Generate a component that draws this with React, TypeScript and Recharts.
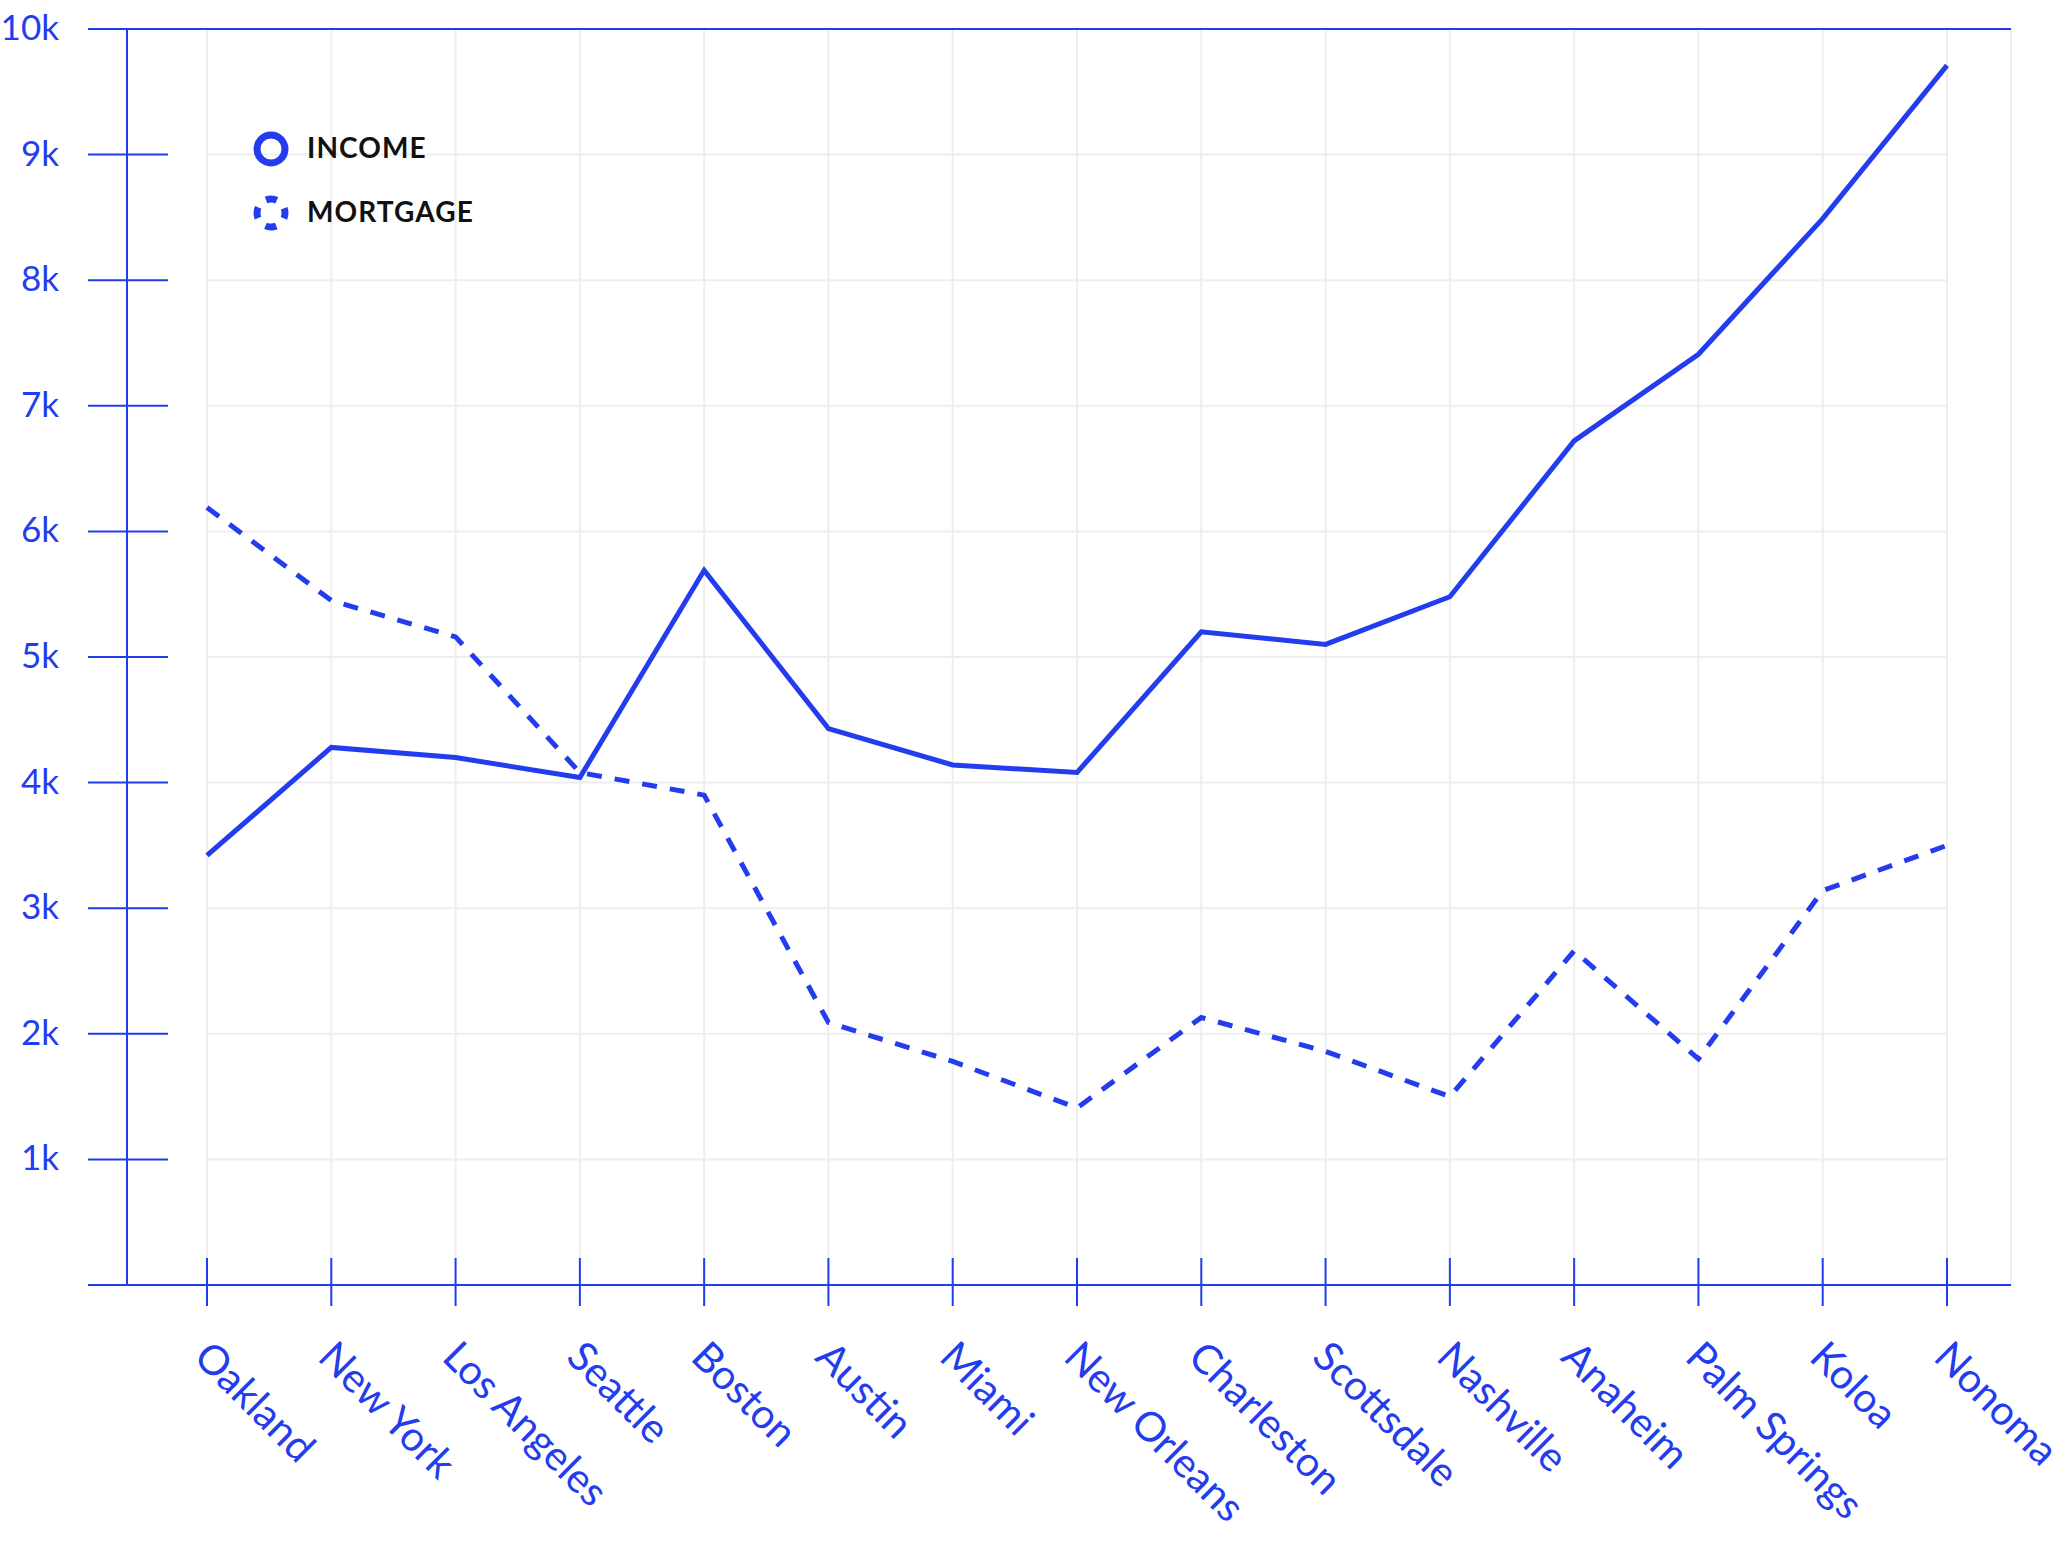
import React from "react";
import { CartesianGrid, Legend, Line, LineChart, ReferenceLine, XAxis, YAxis } from "recharts";

const BLUE = "#233cee";
const GRID = "#eeeeee";

const cities = [
  "Oakland", "New York", "Los Angeles", "Seattle", "Boston", "Austin", "Miami", "New Orleans",
  "Charleston", "Scottsdale", "Nashville", "Anaheim", "Palm Springs", "Koloa", "Nonoma",
];
const income = [3420, 4280, 4200, 4040, 5690, 4430, 4140, 4080, 5200, 5100, 5480, 6720, 7410, 8490, 9710];
const mortgage = [6190, 5450, 5160, 4080, 3900, 2090, 1780, 1410, 2130, 1860, 1500, 2660, 1800, 3140, 3500];
const yTicks = [0, 1000, 2000, 3000, 4000, 5000, 6000, 7000, 8000, 9000, 10000];
const legendItems = [
  { key: "income", label: "INCOME", dashed: false },
  { key: "mortgage", label: "MORTGAGE", dashed: true },
];

const data = cities.map((city, i) => ({ city, income: income[i], mortgage: mortgage[i] }));

function YTick({ x, y, payload }: any) {
  if (payload.value === 0) {
    return <line x1={x - 39} x2={x} y1={y} y2={y} stroke={BLUE} strokeWidth={2} />;
  }
  return (
    <g>
      <line x1={x - 39} x2={x + 41} y1={y} y2={y} stroke={BLUE} strokeWidth={2} />
      <text x={x - 68} y={y + 11} textAnchor="end" fill={BLUE} fontSize={35}>
        {payload.value / 1000}k
      </text>
    </g>
  );
}

function XTick({ x, y, payload }: any) {
  const tx = x - 15;
  const ty = y + 74;
  return (
    <g>
      <line x1={x} x2={x} y1={y - 27} y2={y + 21} stroke={BLUE} strokeWidth={2} />
      <text x={tx} y={ty} transform={`rotate(45, ${tx}, ${ty})`} textAnchor="start" fill={BLUE} fontSize={41}>
        {payload.value}
      </text>
    </g>
  );
}

function LegendBox() {
  return (
    <svg width={300} height={130} style={{ display: "block" }}>
      {legendItems.map((item, i) => (
        <g key={item.key}>
          <circle
            cx={31}
            cy={29 + i * 64}
            r={14}
            fill="none"
            stroke={BLUE}
            strokeWidth={7}
            strokeDasharray={item.dashed ? "11 11" : undefined}
            strokeDashoffset={item.dashed ? 5.5 : undefined}
          />
          <text x={67} y={38 + i * 64} fontSize={28} fontWeight={700} letterSpacing={1.1} fill="#111">
            {item.label}
          </text>
        </g>
      ))}
    </svg>
  );
}

export default function App() {
  return (
    <div style={{ position: "absolute", left: 0, top: 0, fontFamily: "Lato, sans-serif", background: "#fff" }}>
      <LineChart width={2072} height={1549} data={data} margin={{ top: 29, right: 61, bottom: 0, left: 0 }}>
        <CartesianGrid horizontal={false} stroke={GRID} strokeWidth={2} />
        {yTicks.slice(1, -1).map((v) => (
          <ReferenceLine
            key={v}
            segment={[{ x: cities[0], y: v }, { x: cities[cities.length - 1], y: v }]}
            stroke={GRID}
            strokeWidth={2}
          />
        ))}
        <XAxis
          dataKey="city"
          interval={0}
          height={264}
          padding={{ left: 80, right: 64 }}
          tickSize={0}
          tickMargin={0}
          tickLine={false}
          axisLine={{ stroke: BLUE, strokeWidth: 2 }}
          tick={<XTick />}
        />
        <YAxis
          width={127}
          domain={[0, 10000]}
          ticks={yTicks}
          interval={0}
          tickSize={0}
          tickMargin={0}
          tickLine={false}
          axisLine={{ stroke: BLUE, strokeWidth: 2 }}
          tick={<YTick />}
        />
        <YAxis
          yAxisId="frame"
          orientation="right"
          width={0}
          domain={[0, 10000]}
          tick={false}
          tickLine={false}
          axisLine={{ stroke: BLUE, strokeWidth: 2 }}
        />
        <ReferenceLine y={10000} stroke={BLUE} strokeWidth={2} />
        <Legend
          layout="vertical"
          align="center"
          verticalAlign="middle"
          wrapperStyle={{ left: 240, top: 120, width: 300 }}
          content={() => <LegendBox />}
        />
        <Line
          type="linear"
          dataKey="mortgage"
          name="Mortgage"
          stroke={BLUE}
          strokeWidth={5}
          strokeDasharray="15 13"
          dot={false}
          activeDot={false}
          isAnimationActive={false}
        />
        <Line
          type="linear"
          dataKey="income"
          name="Income"
          stroke={BLUE}
          strokeWidth={5}
          dot={false}
          activeDot={false}
          isAnimationActive={false}
        />
      </LineChart>
    </div>
  );
}
